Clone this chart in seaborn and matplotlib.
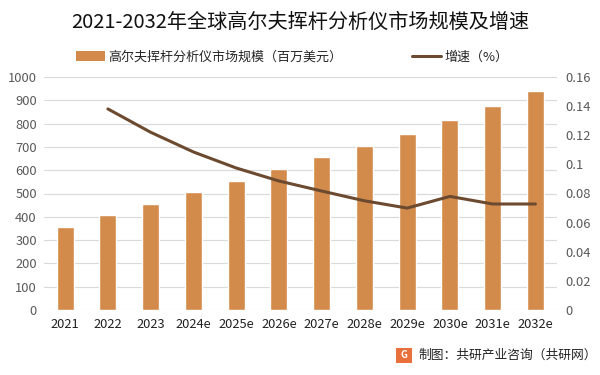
import numpy as np
import pandas as pd
import matplotlib
matplotlib.use("Agg")
import matplotlib.pyplot as plt
import seaborn as sns
from matplotlib.lines import Line2D
from matplotlib.patches import Patch, Rectangle

years = ['2021', '2022', '2023', '2024e', '2025e', '2026e',
         '2027e', '2028e', '2029e', '2030e', '2031e', '2032e']
market = [357, 408, 455, 506, 554, 605, 657, 704, 755, 815, 876, 940]
growth = [np.nan, 0.138, 0.122, 0.1085, 0.0975, 0.0886, 0.0817,
          0.075, 0.070, 0.078, 0.0728, 0.0728]

sns.set_style("white")
plt.rcParams['font.family'] = ['Noto Sans CJK SC', 'DejaVu Sans']

bar_c = '#D38B4C'
line_c = '#6B4A2F'
tick_c = '#595959'

df = pd.DataFrame({'year': years, 'market': market, 'growth': growth})

fig = plt.figure(figsize=(6, 3.75), dpi=100)
ax = fig.add_axes([0.073, 0.173, 0.855, 0.622])
sns.barplot(data=df, x='year', y='market', color=bar_c, width=0.4,
            saturation=1, ax=ax, zorder=2)
ax.set_ylim(0, 1000)
ax.set_yticks(range(0, 1001, 100))
ax.grid(axis='y', color='#D9D9D9', linewidth=0.8, zorder=0)
ax.set_xlabel('')
ax.set_ylabel('')
for s in ax.spines.values():
    s.set_visible(False)
ax.tick_params(axis='y', length=0, labelsize=9.3, labelcolor=tick_c, pad=5)
ax.tick_params(axis='x', length=0, labelsize=9.3, labelcolor='#222222', pad=6)

ax2 = ax.twinx()
sns.lineplot(x=np.arange(len(years)), y=df['growth'], color=line_c,
             linewidth=2.2, ax=ax2)
ax2.set_ylim(0, 0.16)
ax2.set_yticks([0, 0.02, 0.04, 0.06, 0.08, 0.1, 0.12, 0.14, 0.16])
ax2.set_yticklabels(['0', '0.02', '0.04', '0.06', '0.08', '0.1', '0.12', '0.14', '0.16'])
ax2.set_ylabel('')
for s in ax2.spines.values():
    s.set_visible(False)
ax2.tick_params(axis='y', length=0, labelsize=9.3, labelcolor=tick_c, pad=6)
ax.set_xlim(-0.5, len(years) - 0.5)

fig.text(0.5, 0.94, '2021-2032年全球高尔夫挥杆分析仪市场规模及增速',
         ha='center', va='center', fontsize=14.5, color='#111111')

handles = [Patch(facecolor=bar_c, edgecolor='none'),
           Line2D([0], [0], color=line_c, linewidth=2.2)]
labels = ['高尔夫挥杆分析仪市场规模（百万美元）', '增速（%）']
fig.legend(handles, labels, loc='center', bbox_to_anchor=(0.487, 0.848),
           ncol=2, frameon=False, fontsize=9.4, columnspacing=5.3,
           handlelength=2.2, handleheight=0.7, handletextpad=0.3)

# source note with small logo
fig.patches.append(Rectangle((0.66, 0.033), 0.026, 0.04,
                             transform=fig.transFigure, facecolor='#E8703A',
                             edgecolor='none'))
fig.text(0.673, 0.053, 'G', ha='center', va='center', fontsize=7,
         color='white', fontweight='bold')
fig.text(0.697, 0.053, '制图：共研产业咨询（共研网）', ha='left', va='center',
         fontsize=9.2, color='#222222')

fig.savefig('out.png', dpi=100)
